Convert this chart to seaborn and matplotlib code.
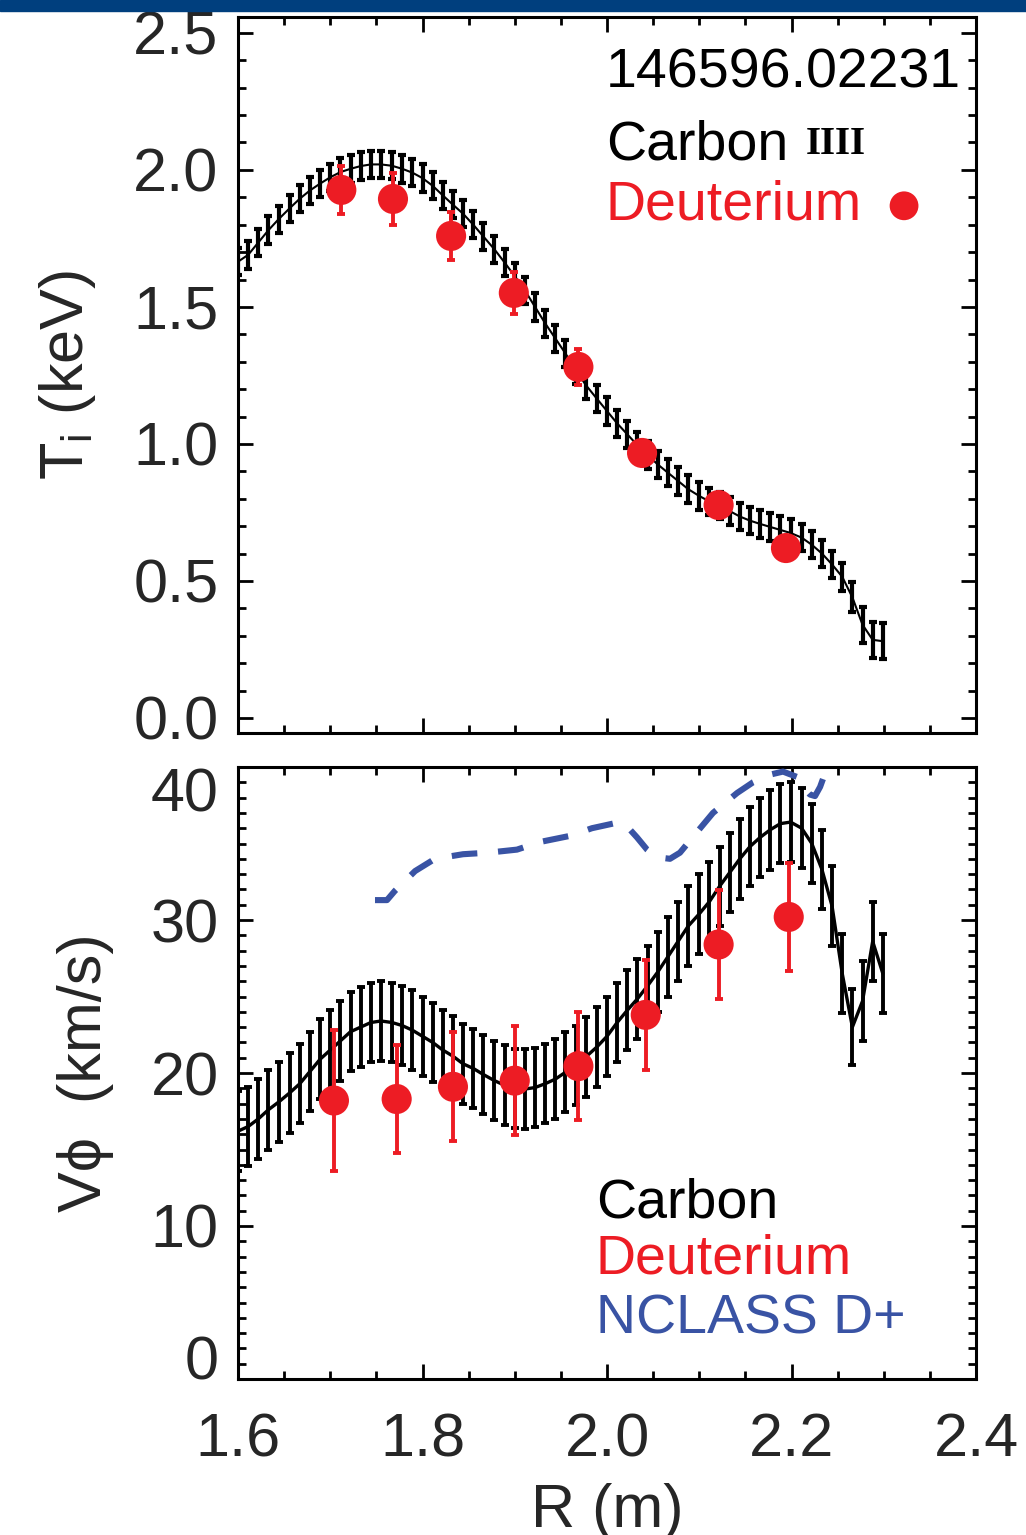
import numpy as np
import pandas as pd
import matplotlib
matplotlib.use("Agg")
import matplotlib.pyplot as plt
import seaborn as sns
from matplotlib.ticker import MultipleLocator
from matplotlib.patches import Rectangle

# ---------------- data ----------------
R_carbon = [1.600, 1.611, 1.622, 1.633, 1.644, 1.656, 1.667, 1.678, 1.689, 1.700,
            1.711, 1.722, 1.733, 1.744, 1.755, 1.767, 1.778, 1.789, 1.800, 1.811,
            1.822, 1.833, 1.844, 1.855, 1.866, 1.878, 1.889, 1.900, 1.911, 1.922,
            1.933, 1.944, 1.955, 1.966, 1.977, 1.989, 2.000, 2.011, 2.022, 2.033,
            2.044, 2.055, 2.066, 2.077, 2.088, 2.100, 2.111, 2.122, 2.133, 2.144,
            2.155, 2.166, 2.177, 2.188, 2.199, 2.211, 2.222, 2.233, 2.244, 2.255,
            2.266, 2.277, 2.288, 2.299]

Ti_carbon = [1.665, 1.69, 1.735, 1.78, 1.82, 1.86, 1.895, 1.925, 1.95, 1.973,
             1.992, 2.004, 2.014, 2.02, 2.02, 2.015, 2.004, 1.99, 1.97, 1.942,
             1.907, 1.873, 1.84, 1.80, 1.757, 1.71, 1.662, 1.612, 1.56, 1.50,
             1.44, 1.385, 1.33, 1.27, 1.215, 1.165, 1.12, 1.075, 1.035, 0.995,
             0.96, 0.925, 0.895, 0.865, 0.835, 0.81, 0.79, 0.775, 0.755, 0.735,
             0.72, 0.708, 0.697, 0.686, 0.675, 0.658, 0.632, 0.60, 0.56, 0.515,
             0.44, 0.34, 0.285, 0.28]
Ti_carbon_err = [0.05, 0.05, 0.05, 0.05, 0.05, 0.05, 0.05, 0.05, 0.05, 0.05,
                 0.05, 0.05, 0.05, 0.05, 0.05, 0.05, 0.05, 0.05, 0.05, 0.05,
                 0.05, 0.05, 0.05, 0.05, 0.05, 0.05, 0.05, 0.05, 0.05, 0.05,
                 0.05, 0.05, 0.05, 0.05, 0.05, 0.05, 0.05, 0.05, 0.05, 0.05,
                 0.05, 0.05, 0.05, 0.05, 0.05, 0.05, 0.05, 0.05, 0.05, 0.05,
                 0.05, 0.05, 0.05, 0.05, 0.05, 0.05, 0.05, 0.05, 0.05, 0.05,
                 0.055, 0.065, 0.065, 0.065]

V_carbon = [16.2, 16.5, 17.0, 17.6, 18.1, 18.7, 19.3, 20.1, 20.9, 21.5,
            22.1, 22.7, 23.0, 23.3, 23.4, 23.3, 23.1, 22.8, 22.4, 22.0,
            21.5, 21.1, 20.6, 20.3, 19.9, 19.5, 19.2, 19.0, 18.95, 19.05,
            19.3, 19.6, 20.05, 20.5, 21.05, 21.7, 22.4, 23.3, 24.1, 24.85,
            25.7, 26.6, 27.6, 28.6, 29.6, 30.4, 31.2, 32.2, 33.1, 34.0,
            34.8, 35.4, 35.9, 36.3, 36.4, 36.0, 35.0, 33.3, 30.9, 26.5,
            23.0, 24.7, 28.6, 26.5]
V_carbon_err = [2.6, 2.6, 2.6, 2.6, 2.6, 2.6, 2.6, 2.6, 2.6, 2.6,
                2.6, 2.6, 2.6, 2.6, 2.6, 2.6, 2.6, 2.6, 2.6, 2.6,
                2.6, 2.6, 2.6, 2.6, 2.6, 2.6, 2.6, 2.6, 2.6, 2.6,
                2.6, 2.6, 2.6, 2.6, 2.6, 2.6, 2.6, 2.6, 2.6, 2.6,
                2.6, 2.6, 2.6, 2.6, 2.6, 2.6, 2.6, 2.6, 2.6, 2.6,
                2.6, 2.6, 2.6, 2.6, 2.6, 2.6, 2.6, 2.6, 2.6, 2.6,
                2.5, 2.6, 2.6, 2.6]

R_D_top = [1.712, 1.768, 1.831, 1.899, 1.969, 2.038, 2.121, 2.194]
Ti_D = [1.927, 1.894, 1.759, 1.551, 1.281, 0.967, 0.777, 0.62]
Ti_D_err = [0.087, 0.095, 0.088, 0.077, 0.065, 0.045, 0.03, 0.03]

R_D_bot = [1.704, 1.772, 1.833, 1.900, 1.969, 2.042, 2.121, 2.197]
V_D = [18.2, 18.3, 19.1, 19.5, 20.45, 23.8, 28.4, 30.2]
V_D_err = [4.6, 3.55, 3.55, 3.55, 3.55, 3.6, 3.55, 3.55]

R_nclass = [1.7485, 1.7615, 1.770, 1.792, 1.8135, 1.844, 1.871, 1.9024, 1.9274, 1.960,
            1.9837, 2.014, 2.025, 2.0325, 2.0434, 2.0542, 2.0683, 2.0791, 2.0976, 2.1149,
            2.141, 2.1583, 2.1767, 2.1908, 2.206, 2.2125, 2.220, 2.2255, 2.231, 2.2364,
            2.2397]
V_nclass = [31.3, 31.3, 31.9, 33.2, 34.0, 34.3, 34.4, 34.6, 35.1, 35.5,
            36.0, 36.4, 35.9, 35.4, 34.6, 34.1, 34.0, 34.4, 35.75, 37.0,
            38.3, 39.0, 39.5, 39.7, 39.35, 38.7, 38.2, 38.1, 38.7, 39.6,
            40.5]

# legend marker position (data coords of the top panel)
legend_dot_R = [2.322]
legend_dot_T = [1.869]

x_ticks = [1.6, 1.8, 2.0, 2.2, 2.4]
x_ticklabels = ["1.6", "1.8", "2.0", "2.2", "2.4"]
top_yticks = [0.0, 0.5, 1.0, 1.5, 2.0, 2.5]
top_yticklabels = ["0.0", "0.5", "1.0", "1.5", "2.0", "2.5"]
bot_yticks = [0, 10, 20, 30, 40]
bot_yticklabels = ["0", "10", "20", "30", "40"]

# ---------------- style ----------------
sns.set_theme(style="ticks")
plt.rcParams["font.family"] = ["Liberation Sans", "DejaVu Sans"]
plt.rcParams["mathtext.fontset"] = "custom"
plt.rcParams["mathtext.rm"] = "Liberation Sans"
plt.rcParams["mathtext.it"] = "Liberation Sans"

RED = "#ed1c24"
BLUE = "#3953a4"
W, H = 1026, 1535

fig = plt.figure(figsize=(W / 100, H / 100), dpi=100)
fig.patch.set_facecolor("white")
fig.add_artist(Rectangle((0, 1 - 11 / H), 1, 11 / H, transform=fig.transFigure,
                         color="#003f7e", zorder=10))

ax1 = fig.add_axes([238 / W, 1 - 733 / H, 738 / W, 716 / H])
ax2 = fig.add_axes([238 / W, 1 - 1379 / H, 738 / W, 612 / H])

df_top = pd.DataFrame({"R": R_carbon, "T": Ti_carbon, "err": Ti_carbon_err})
df_bot = pd.DataFrame({"R": R_carbon, "V": V_carbon, "err": V_carbon_err})
df_Dt = pd.DataFrame({"R": R_D_top, "T": Ti_D, "err": Ti_D_err})
df_Db = pd.DataFrame({"R": R_D_bot, "V": V_D, "err": V_D_err})
df_nc = pd.DataFrame({"R": R_nclass, "V": V_nclass})

# ---- top panel ----
sns.lineplot(data=df_top, x="R", y="T", ax=ax1, color="black", lw=1.5,
             estimator=None, sort=False, zorder=2)
ax1.errorbar(df_top["R"], df_top["T"], yerr=df_top["err"], fmt="none",
             ecolor="black", elinewidth=3.0, capsize=3.0, capthick=3.0, zorder=3)
ax1.errorbar(df_Dt["R"], df_Dt["T"], yerr=df_Dt["err"], fmt="none",
             ecolor=RED, elinewidth=2.8, capsize=2.8, capthick=2.8, zorder=4)
sns.scatterplot(data=df_Dt, x="R", y="T", ax=ax1, color=RED, s=470,
                edgecolor="none", linewidth=0, zorder=5)
ax1.scatter(legend_dot_R, legend_dot_T, s=430, color=RED, edgecolor="none",
            zorder=6, clip_on=False)

# ---- bottom panel ----
sns.lineplot(data=df_bot, x="R", y="V", ax=ax2, color="black", lw=2.4,
             estimator=None, sort=False, zorder=2)
ax2.errorbar(df_bot["R"], df_bot["V"], yerr=df_bot["err"], fmt="none",
             ecolor="black", elinewidth=2.8, capsize=3.0, capthick=2.8, zorder=3)
ax2.errorbar(df_Db["R"], df_Db["V"], yerr=df_Db["err"], fmt="none",
             ecolor=RED, elinewidth=2.8, capsize=2.8, capthick=2.8, zorder=4)
sns.scatterplot(data=df_Db, x="R", y="V", ax=ax2, color=RED, s=470,
                edgecolor="none", linewidth=0, zorder=5)
sns.lineplot(data=df_nc, x="R", y="V", ax=ax2, color=BLUE, lw=4.4,
             estimator=None, sort=False, linestyle=(0, (4.2, 3.4)), zorder=6)

# ---- axes formatting ----
for ax in (ax1, ax2):
    ax.set_xlim(1.6, 2.4)
    ax.set_xticks(x_ticks)
    ax.xaxis.set_minor_locator(MultipleLocator(0.05))
    for s in ax.spines.values():
        s.set_linewidth(2.2)
        s.set_color("black")
        s.set_visible(True)
    ax.tick_params(which="both", direction="in", top=True, right=True,
                   left=True, bottom=True, width=2.0, color="black")
    ax.tick_params(which="major", length=11)
    ax.tick_params(which="minor", length=6)
    ax.tick_params(axis="y", which="major", labelsize=44, pad=14)
    ax.set_facecolor("white")
    ax.grid(False)

ax1.set_ylim(-0.055, 2.558)
ax1.set_yticks(top_yticks)
ax1.set_yticklabels(top_yticklabels)
ax1.yaxis.set_minor_locator(MultipleLocator(0.1))
ax1.set_xticklabels([])
ax1.set_xlabel("")
ax1.set_ylabel("T$_\\mathregular{i}$ (keV)", fontsize=44)
ax1.yaxis.set_label_coords(-0.19, 0.5)

ax2.set_ylim(0, 40)
ax2.set_yticks(bot_yticks)
ax2.set_yticklabels(bot_yticklabels)
ax2.yaxis.set_minor_locator(MultipleLocator(1))
labs = ax2.get_yticklabels()
labs[0].set_verticalalignment("baseline")
labs[-1].set_verticalalignment("top")
ax2.set_xticklabels(x_ticklabels)
ax2.tick_params(axis="x", which="major", labelsize=44, pad=24)
ax2.set_xlabel("")
ax2.set_ylabel("V\u03d5  (km/s)", fontsize=44)
ax2.yaxis.set_label_coords(-0.168, 0.5)

fig.text(607 / W, 1 - 1527 / H, "R (m)", fontsize=44, ha="center", va="baseline")

# ---- in-plot annotations ----
def ftext(x, y, s, **kw):
    fig.text(x / W, 1 - y / H, s, va="baseline", ha="left", **kw)

ftext(606, 88, "146596.02231", fontsize=40, color="black")
ftext(606, 160, "Carbon", fontsize=40, color="black")
ftext(806, 154, "IIII", fontsize=28, color="black", family="Liberation Serif",
      fontweight="bold")
ftext(606, 220, "Deuterium", fontsize=40, color=RED)

ftext(596, 1218, "Carbon", fontsize=40, color="black")
ftext(596, 1274, "Deuterium", fontsize=40, color=RED)
ftext(596, 1334, "NCLASS D+", fontsize=40, color=BLUE)

fig.savefig("out.png", dpi=100, facecolor="white")
